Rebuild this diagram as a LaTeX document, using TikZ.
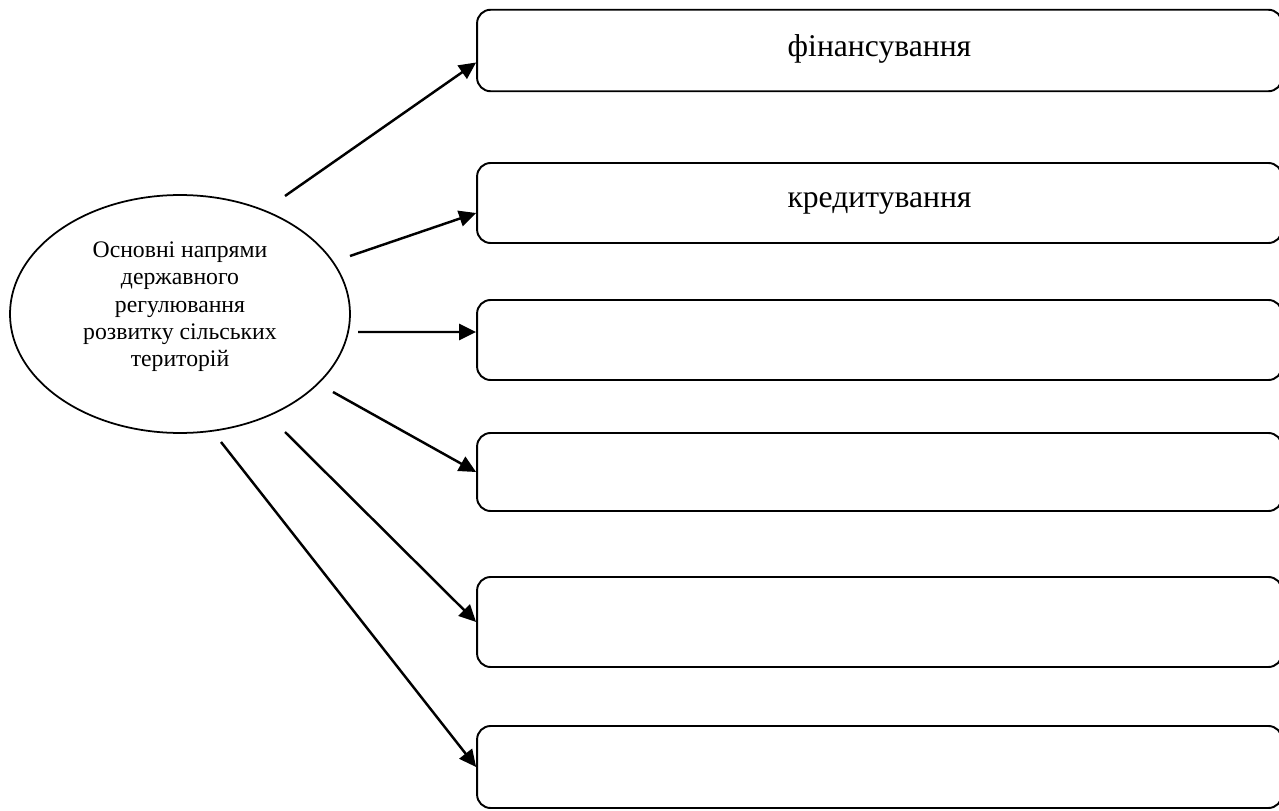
\documentclass[tikz,border=0pt]{standalone}
\usepackage{fontspec}
\setmainfont{Liberation Serif}
\usetikzlibrary{shapes.geometric,arrows.meta}

\begin{document}
\begin{tikzpicture}[x=0.02cm, y=-0.02cm,
        pole/.style={draw, rectangle, rounded corners=0.27cm, line width=1.1pt,
            minimum width=16.1cm, inner sep=0pt, font=\fontsize{18}{21}\selectfont},
        strilka/.style={line width=1.4pt, -{Triangle[length=0.34cm,width=0.32cm]}}]
            \path[use as bounding box, clip] (0,0) rectangle (1279,811);
            \node[draw, ellipse, line width=1pt, minimum width=6.8cm, minimum height=4.76cm,
                inner sep=0pt, font=\fontsize{13.5}{15.6}\selectfont] (napr) at (180,314)
                {\raisebox{0.02cm}[0pt][0pt]{\begin{tabular}{@{}c@{}}Основні напрями\\державного\\регулювання\\розвитку сільських\\територій\end{tabular}}};
            \node[pole, minimum height=1.63cm] (b1) at (879.5,50.5) {\raisebox{0.18cm}{фінансування}};
            \node[pole, minimum height=1.6cm] (b2) at (879.5,203) {\raisebox{0.08cm}{кредитування}};
            \node[pole, minimum height=1.6cm] (b3) at (879.5,340) {};
            \node[pole, minimum height=1.56cm] (b4) at (879.5,472) {};
            \node[pole, minimum height=1.8cm] (b5) at (879.5,622) {};
            \node[pole, minimum height=1.64cm] (b6) at (879.5,767) {};
            \coordinate (s1) at (285,196);
            \coordinate (s2) at (350,256);
            \coordinate (s3) at (358,332);
            \coordinate (s4) at (333,392);
            \coordinate (s5) at (285,432);
            \coordinate (s6) at (221,442);
            \draw[strilka] (s1) -- ([yshift=-0.24cm]b1.west);
            \draw[strilka] (s2) -- ([yshift=-0.2cm]b2.west);
            \draw[strilka] (s3) -- ([yshift=0.16cm]b3.west);
            \draw[strilka] (s4) -- (b4.west);
            \draw[strilka] (s5) -- (b5.west);
            \draw[strilka] (s6) -- (b6.west);
        \end{tikzpicture}
\end{document}
